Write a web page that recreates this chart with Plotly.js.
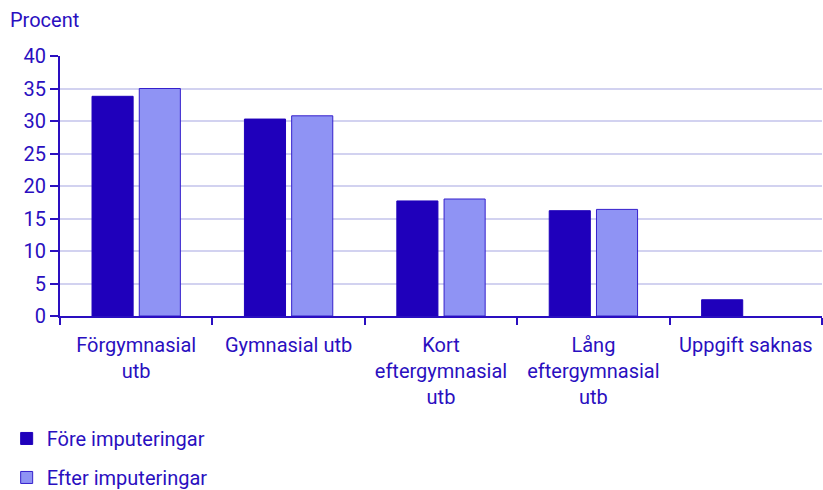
<!DOCTYPE html>
<html><head><meta charset="utf-8">
<script src="https://cdn.plot.ly/plotly-3.0.1.min.js"></script>
<style>body{margin:0;padding:0;background:#fff}#c{width:823px;height:490px}</style>
</head><body><div id="c"></div>
<script>
const categories = ["Förgymnasial<br>utb", "Gymnasial utb", "Kort<br>eftergymnasial<br>utb", "Lång<br>eftergymnasial<br>utb", "Uppgift saknas"];
const seriesNames = ["Före imputeringar", "Efter imputeringar"];
const fore = [33.8, 30.3, 17.7, 16.2, 2.5];
const efter = [35.0, 30.8, 18.0, 16.4, null];
const yTicks = [0, 5, 10, 15, 20, 25, 30, 35, 40];

const txt = '#2a0fc0';
const data = [
  {type:'bar', name:seriesNames[0], x:categories, y:fore, legendgroup:'a',
   marker:{color:'#1f00bb', line:{color:'#1f00bb', width:1}}},
  {type:'bar', name:seriesNames[1], x:categories, y:efter, legendgroup:'b',
   marker:{color:'#8f93f4', line:{color:'#3520cc', width:1}}}
];
const layout = {
  width:823, height:490,
  margin:{l:60, r:1, t:56, b:174, autoexpand:false},
  paper_bgcolor:'#fff', plot_bgcolor:'#fff',
  font:{family:'Roboto, sans-serif', size:20, color:txt},
  barmode:'group', bargap:0.38, bargroupgap:0.13,
  showlegend:true,
  legend:{orientation:'v', x:-0.07, xanchor:'left', y:-0.396, yanchor:'top',
    traceorder:'grouped', tracegroupgap:10, itemwidth:30, font:{size:20, color:txt}, bgcolor:'rgba(0,0,0,0)'},
  xaxis:{type:'category', showline:true, linecolor:'#2a0fc0', linewidth:2,
    ticks:'outside', tickson:'boundaries', ticklen:7, tickwidth:2, tickcolor:'#2a0fc0',
    ticklabelstandoff:10,
    tickfont:{size:20, color:txt}, showgrid:false, zeroline:false, automargin:false},
  yaxis:{range:[0,40], tickvals:yTicks, showline:true, linecolor:'#2a0fc0', linewidth:2,
    ticks:'outside', ticklen:8, tickwidth:2, tickcolor:'#2a0fc0',
    showgrid:true, gridcolor:'#d2d2f0', gridwidth:2, zeroline:false,
    tickfont:{size:20, color:txt}, automargin:false},
  annotations:[{text:'Procent', xref:'paper', yref:'paper', x:-0.068, y:1.138,
    xanchor:'left', yanchor:'middle', showarrow:false, font:{size:20, color:txt}}]
};
Plotly.newPlot('c', data, layout, {displayModeBar:false, staticPlot:true});
</script></body></html>
